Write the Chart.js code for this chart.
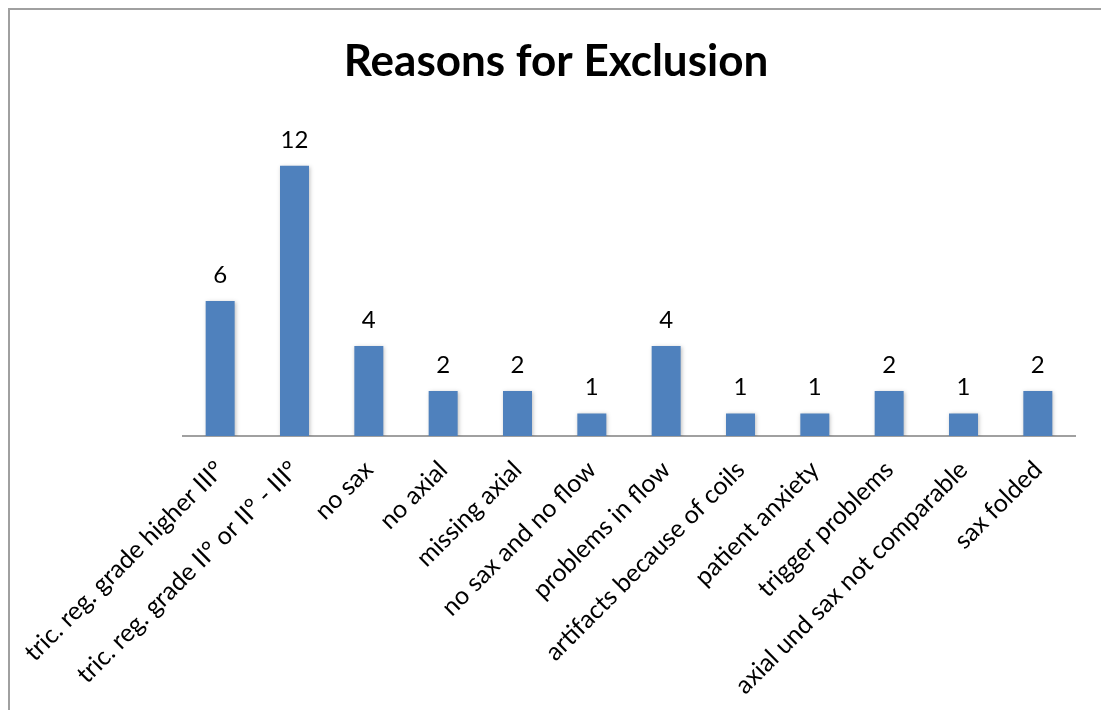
<!DOCTYPE html>
<html>
<head>
<meta charset="utf-8">
<script src="https://cdn.jsdelivr.net/npm/chart.js@4"></script>
<style>
html,body{margin:0;padding:0;background:#fff;}
#wrap{position:relative;width:1101px;height:710px;}
#frame{position:absolute;left:8px;top:8px;right:0;bottom:0;border-left:2px solid #a0a0a0;border-top:2px solid #a0a0a0;pointer-events:none;}
canvas{position:absolute;left:0;top:0;}
</style>
</head>
<body>
<div id="wrap">
<canvas id="c" width="1101" height="710"></canvas>
<div id="frame"></div>
</div>
<script>
const titleText = "Reasons for Exclusion";
const categories = [
  "tric. reg. grade higher III°",
  "tric. reg. grade II° or II° - III°",
  "no sax",
  "no axial",
  "missing axial",
  "no sax and no flow",
  "problems in flow",
  "artifacts because of coils",
  "patient anxiety",
  "trigger problems",
  "axial und sax not comparable",
  "sax folded"
];
const values = [6, 12, 4, 2, 2, 1, 4, 1, 1, 2, 1, 2];

const FONT = "Lato, 'Open Sans', sans-serif";

const valueLabels = {
  id: 'valueLabels',
  afterDatasetsDraw(chart) {
    const ctx = chart.ctx;
    const meta = chart.getDatasetMeta(0);
    ctx.save();
    ctx.fillStyle = '#000';
    ctx.font = '24px ' + FONT;
    ctx.textAlign = 'center';
    ctx.textBaseline = 'alphabetic';
    meta.data.forEach((bar, i) => {
      ctx.fillText(String(chart.data.datasets[0].data[i]), bar.x, bar.y - 18);
    });
    ctx.restore();
  }
};

const barShadow = {
  id: 'barShadow',
  beforeDatasetsDraw(chart) {
    const ctx = chart.ctx;
    ctx.save();
    ctx.shadowColor = 'rgba(0,0,0,0.25)';
    ctx.shadowBlur = 4;
    ctx.shadowOffsetX = 1;
    ctx.shadowOffsetY = 1;
  },
  afterDatasetsDraw(chart) {
    chart.ctx.restore();
  }
};

new Chart(document.getElementById('c'), {
  type: 'bar',
  data: {
    labels: categories,
    datasets: [{
      data: values,
      backgroundColor: '#4F81BD',
      borderWidth: 0,
      categoryPercentage: 1,
      barPercentage: 0.39
    }]
  },
  plugins: [barShadow, valueLabels],
  options: {
    responsive: false,
    animation: false,
    layout: { padding: { left: 37, right: 26, top: 0, bottom: 0 } },
    plugins: {
      legend: { display: false },
      tooltip: { enabled: false },
      title: {
        display: true,
        text: titleText,
        color: '#000',
        font: { family: FONT, size: 44, weight: 'bold' },
        padding: { top: 35, bottom: 33 }
      }
    },
    scales: {
      y: {
        display: true,
        min: 0,
        max: 14,
        ticks: { display: false },
        grid: { display: false, drawTicks: false },
        border: { display: false },
        afterFit(scale) { scale.width = 146; }
      },
      x: {
        grid: { display: false, drawTicks: false },
        border: { display: true, color: '#a0a0a0', width: 2 },
        ticks: {
          color: '#000',
          font: { family: FONT, size: 25 },
          minRotation: 45,
          maxRotation: 45,
          padding: 19,
          autoSkip: false
        },
        afterFit(scale) { scale.height = 274; }
      }
    }
  }
});
</script>
</body>
</html>
